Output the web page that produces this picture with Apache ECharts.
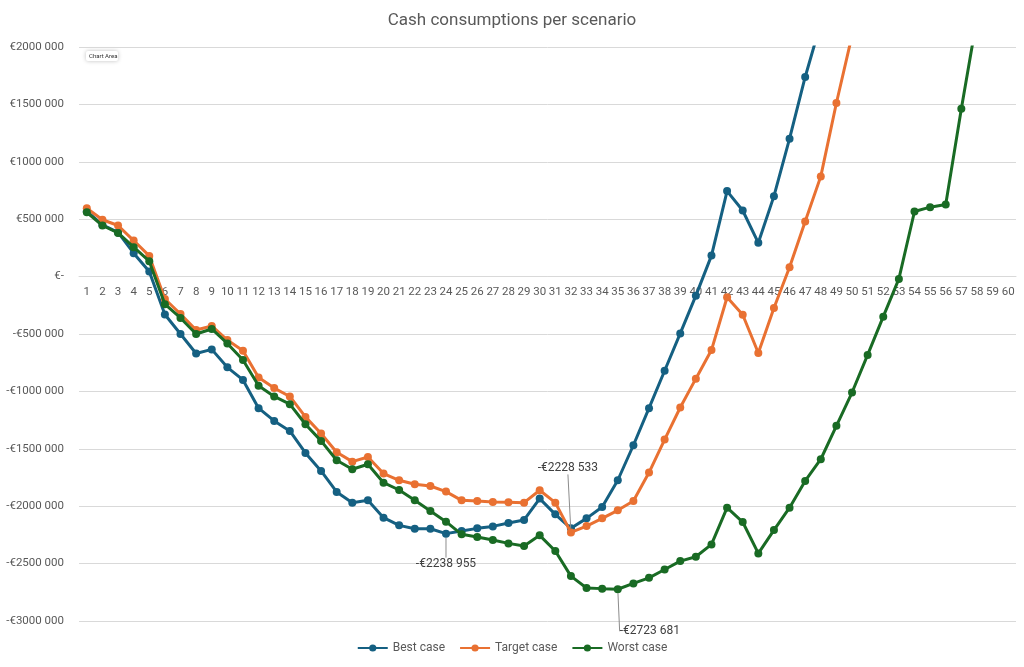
<!DOCTYPE html>
<html>
<head>
<meta charset="utf-8">
<title>Cash consumptions per scenario</title>
<script src="https://cdn.jsdelivr.net/npm/echarts@6/dist/echarts.min.js"></script>
<style>
  html, body { margin: 0; padding: 0; background: #fff; }
  #main { width: 1024px; height: 667px; }
</style>
</head>
<body>
<div id="main"></div>
<script>
// months
var months = ['1','2','3','4','5','6','7','8','9','10','11','12','13','14','15','16','17','18','19','20',
  '21','22','23','24','25','26','27','28','29','30','31','32','33','34','35','36','37','38','39','40',
  '41','42','43','44','45','46','47','48','49','50','51','52','53','54','55','56','57','58','59','60'];

var bestCase = [570000, 450000, 385000, 204000, 44000, -330000, -500000, -670000, -634000, -790000,
  -900000, -1146000, -1257000, -1344000, -1536000, -1693000, -1876000, -1969000, -1949000, -2100000,
  -2167000, -2196000, -2196000, -2238955, -2216000, -2193000, -2176000, -2147000, -2120000, -1934000,
  -2071000, -2193000, -2106000, -2007000, -1774000, -1469000, -1146000, -820000, -495000, -166000,
  183000, 745000, 576000, 294000, 701000, 1201000, 1739000, 2210000, null, null,
  null, null, null, null, null, null, null, null, null, null];

var targetCase = [595000, 495000, 445000, 314000, 180000, -195000, -326000, -465000, -430000, -553000,
  -646000, -878000, -971000, -1044000, -1222000, -1367000, -1530000, -1612000, -1571000, -1716000,
  -1774000, -1809000, -1824000, -1873000, -1949000, -1955000, -1963000, -1966000, -1969000, -1861000,
  -1969000, -2228533, -2173000, -2106000, -2036000, -1955000, -1707000, -1420000, -1140000, -889000,
  -640000, -180000, -332000, -666000, -273000, 81000, 480000, 873000, 1512000, 2100000,
  null, null, null, null, null, null, null, null, null, null];

var worstCase = [560000, 445000, 380000, 256000, 134000, -240000, -360000, -500000, -456000, -582000,
  -727000, -951000, -1044000, -1111000, -1286000, -1431000, -1600000, -1678000, -1635000, -1795000,
  -1859000, -1949000, -2042000, -2135000, -2245000, -2269000, -2295000, -2324000, -2347000, -2254000,
  -2390000, -2609000, -2712000, -2718000, -2723681, -2673000, -2624000, -2551000, -2478000, -2440000,
  -2333000, -2013000, -2138000, -2411000, -2208000, -2013000, -1780000, -1591000, -1300000, -1010000,
  -682000, -349000, -20000, 567000, 605000, 628000, 1463000, 2250000, null, null];

// which point of each series gets a data label (month index)
var bestLabelAt = 23;
var targetLabelAt = 31;
var worstLabelAt = 34;

var seriesNames = ['Best case', 'Target case', 'Worst case'];
var seriesColors = ['#156082', '#E97132', '#196B24'];

var fontName = 'Roboto, "Noto Sans", sans-serif';
var textGray = '#595959';

// €2000 000 / -€500 000 / €-
function euro(v) {
  if (v === 0) return '€-';
  var sign = v < 0 ? '-' : '';
  var a = Math.round(Math.abs(v));
  var th = Math.floor(a / 1000);
  var rest = a % 1000;
  if (th > 0) {
    var r = '' + rest;
    while (r.length < 3) r = '0' + r;
    return sign + '€' + th + ' ' + r;
  }
  return sign + '€' + rest;
}

function withLabel(values, idx) {
  return values.map(function (v, i) {
    if (i !== idx) return v;
    return {
      value: v,
      label: {
        show: true,
        position: 'inside',
        formatter: function (p) { return euro(p.value); },
        color: '#404040',
        fontSize: 12,
        fontFamily: fontName
      }
    };
  });
}

function makeSeries(i, values, labelIdx, dx, dy) {
  return {
    name: seriesNames[i],
    type: 'line',
    data: withLabel(values, labelIdx),
    symbol: 'circle',
    symbolSize: 8,
    connectNulls: false,
    lineStyle: { width: 3, color: seriesColors[i] },
    itemStyle: { color: seriesColors[i] },
    labelLine: {
      show: true,
      length2: 0,
      lineStyle: { color: '#8c8c8c', width: 1 }
    },
    labelLayout: { dx: dx, dy: dy },
    emphasis: { disabled: true },
    z: 3 + i
  };
}

var myChart = echarts.init(document.getElementById('main'));

var option = {
  animation: false,
  backgroundColor: '#fff',
  textStyle: { fontFamily: fontName },
  title: {
    text: 'Cash consumptions per scenario',
    left: 'center',
    top: 7,
    textStyle: { fontSize: 17, fontWeight: 'normal', color: textGray, fontFamily: fontName }
  },
  legend: {
    data: seriesNames,
    bottom: 8,
    left: 'center',
    itemWidth: 30,
    itemHeight: 9,
    itemGap: 14,
    textStyle: { fontSize: 12, color: textGray, fontFamily: fontName }
  },
  grid: { left: 79, right: 8, top: 47, bottom: 46 },
  xAxis: {
    type: 'category',
    data: months,
    boundaryGap: true,
    // labels sit just under the zero line, like the source chart
    offset: -345,
    axisLine: { onZero: false, lineStyle: { color: '#d9d9d9' } },
    axisTick: { show: false },
    axisLabel: { interval: 0, color: textGray, fontSize: 11.5, margin: 10, fontFamily: fontName }
  },
  yAxis: {
    type: 'value',
    min: -3000000,
    max: 2000000,
    interval: 500000,
    axisLine: { show: false },
    axisTick: { show: false },
    splitLine: { lineStyle: { color: '#d9d9d9', width: 1 } },
    axisLabel: {
      color: textGray,
      fontSize: 11.5,
      margin: 15,
      fontFamily: fontName,
      formatter: euro
    }
  },
  graphic: [{
    type: 'group',
    left: 86,
    top: 51,
    children: [{
      type: 'rect',
      shape: { width: 32, height: 10, r: 2 },
      style: { fill: '#fff', shadowBlur: 4, shadowColor: 'rgba(0,0,0,0.25)' }
    }, {
      type: 'text',
      left: 3,
      top: 2,
      style: { text: 'Chart Area', fontSize: 6, fill: '#333', fontFamily: fontName }
    }]
  }],
  series: [
    makeSeries(0, bestCase, bestLabelAt, 0, 30),
    makeSeries(1, targetCase, targetLabelAt, -3, -64),
    makeSeries(2, worstCase, worstLabelAt, 32, 42)
  ]
};

myChart.setOption(option);
</script>
</body>
</html>
